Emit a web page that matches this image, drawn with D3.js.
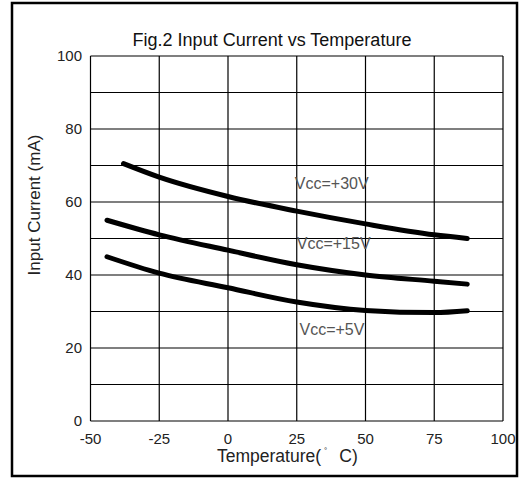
<!DOCTYPE html>
<html><head><meta charset="utf-8">
<script src="https://cdn.jsdelivr.net/npm/d3@7"></script>
<style>html,body{margin:0;padding:0;background:#fff;} svg{display:block;} text{font-family:"Liberation Sans",Arial,sans-serif;}</style>
</head><body>
<svg id="c" width="520" height="478"></svg>
<script>
const title = "Fig.2 Input Current vs Temperature";
const xTicks = [-50, -25, 0, 25, 50, 75, 100];
const yTicks = [0, 20, 40, 60, 80, 100];
const yGrid = [0, 10, 20, 30, 40, 50, 60, 70, 80, 90, 100];
const seriesNames = ["Vcc=+30V", "Vcc=+15V", "Vcc=+5V"];
const temp30 = [-38, -25, 0, 25, 50, 75, 87];
const cur30  = [70.5, 66.8, 61.5, 57.5, 54, 51, 50];
const temp15 = [-44, -25, 0, 25, 50, 75, 87];
const cur15  = [55, 51, 46.8, 42.8, 40, 38.3, 37.5];
const temp5  = [-44, -25, 0, 25, 50, 75, 87];
const cur5   = [45, 40.5, 36.5, 32.6, 30.3, 29.7, 30.2];
// label anchor positions in data units (temperature, current)
const labelPos = [[24.3, 63.6], [25, 47.1], [26, 23.5]];

const svg = d3.select("#c");
const x = d3.scaleLinear().domain([-50, 100]).range([90.5, 503]);
const y = d3.scaleLinear().domain([0, 100]).range([421, 56]);

svg.append("rect").attr("x", 12).attr("y", 3).attr("width", 505).attr("height", 473)
  .attr("fill", "#fff").attr("stroke", "#000").attr("stroke-width", 2.5);

svg.append("text").attr("x", 272).attr("y", 46).attr("text-anchor", "middle")
  .attr("font-size", 18).attr("fill", "#111").text(title);

// grid
const g = svg.append("g");
g.selectAll("line.h").data(yGrid).join("line").attr("class", "h")
  .attr("x1", x(-50)).attr("x2", x(100)).attr("y1", d => y(d)).attr("y2", d => y(d))
  .attr("stroke", "#000").attr("stroke-width", 1.2);
g.selectAll("line.v").data(xTicks).join("line").attr("class", "v")
  .attr("y1", y(0)).attr("y2", y(100)).attr("x1", d => x(d)).attr("x2", d => x(d))
  .attr("stroke", "#000").attr("stroke-width", 1.2);

// tick labels
svg.selectAll("text.yt").data(yTicks).join("text").attr("class", "yt")
  .attr("x", 82).attr("y", d => y(d) + 5).attr("text-anchor", "end")
  .attr("font-size", 15).attr("fill", "#222").text(d => d);
svg.selectAll("text.xt").data(xTicks).join("text").attr("class", "xt")
  .attr("x", d => x(d)).attr("y", 444).attr("text-anchor", "middle")
  .attr("font-size", 15).attr("fill", "#222").text(d => d);

// axis titles
svg.append("text").attr("transform", "translate(40,205) rotate(-90)").attr("text-anchor", "middle")
  .attr("font-size", 17).attr("fill", "#222").text("Input Current (mA)");
const xt = svg.append("text").attr("x", 217).attr("y", 462).attr("font-size", 17.5).attr("fill", "#222");
xt.append("tspan").text("Temperature(");
xt.append("tspan").attr("font-size", 8).attr("dy", -9).attr("dx", 3).text("°");
xt.append("tspan").attr("dy", 9).attr("dx", 12).text("C)");

// curves
const series = [
  temp30.map((t, i) => [t, cur30[i]]),
  temp15.map((t, i) => [t, cur15[i]]),
  temp5.map((t, i) => [t, cur5[i]])
];
const line = d3.line().x(d => x(d[0])).y(d => y(d[1])).curve(d3.curveMonotoneX);
svg.selectAll("path.s").data(series).join("path").attr("class", "s")
  .attr("d", line).attr("fill", "none").attr("stroke", "#000")
  .attr("stroke-width", 5).attr("stroke-linecap", "round").attr("stroke-linejoin", "round");

svg.selectAll("text.lab").data(seriesNames).join("text").attr("class", "lab")
  .attr("x", (d, i) => x(labelPos[i][0])).attr("y", (d, i) => y(labelPos[i][1]))
  .attr("font-size", 16).attr("fill", "#555").text(d => d);
</script>
</body></html>
